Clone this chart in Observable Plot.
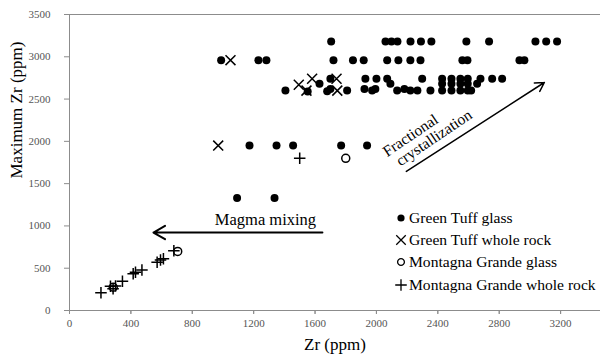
<!DOCTYPE html>
<html><head><meta charset="utf-8">
<script src="https://cdn.jsdelivr.net/npm/d3@7"></script>
<script src="https://cdn.jsdelivr.net/npm/@observablehq/plot@0.6"></script>
<style>
body{margin:0;background:#fff;}
#wrap{position:relative;width:600px;height:354px;font-family:"Liberation Serif","Times New Roman",serif;}
#legend{position:absolute;left:395px;top:207px;font-size:15.6px;color:#000;}
.li{height:22.2px;display:flex;align-items:center;white-space:nowrap;}
.li svg{width:12px;height:12px;margin-right:2px;overflow:visible;}
</style></head><body><div id="wrap"></div>
<script>
// Green Tuff glass
const gtGlassZr  = [1705,2059,2098,2137,2222,2290,2358,2586,2734,3036,3106,3177,
                    988,1231,1283,1720,1847,1917,2070,2143,2221,2287,2560,2593,2932,2964,
                    1700,1928,2000,2070,2298,2428,2489,2547,2595,2678,2754,2819,
                    1629,2091,2428,2489,2547,2595,2656,
                    1407,1552,1679,1700,1809,1922,1972,1993,2135,2182,2221,2267,2352,2428,2489,2547,2595,2617,
                    1173,1349,1457,1770,1939,
                    1092,1336];
const gtGlassMax = [3180,3180,3180,3180,3180,3180,3180,3180,3180,3180,3180,3180,
                    2960,2960,2960,2960,2960,2960,2960,2960,2960,2960,2960,2960,2960,2960,
                    2740,2740,2740,2740,2740,2740,2740,2740,2740,2740,2740,2740,
                    2680,2680,2680,2680,2680,2680,2680,
                    2600,2590,2593,2620,2600,2620,2600,2620,2600,2620,2600,2600,2600,2600,2600,2600,2600,2600,
                    1950,1950,1950,1950,1950,
                    1330,1330];
// Green Tuff whole rock
const gtRockZr  = [969,1049,1494,1544,1581,1740,1745];
const gtRockMax = [1950,2960,2670,2600,2740,2740,2600];
// Montagna Grande glass
const mgGlassZr  = [285,705,1800];
const mgGlassMax = [275,698,1800];
// Montagna Grande whole rock
const mgRockZr  = [205,267,284,300,345,415,430,472,571,593,612,680,1500];
const mgRockMax = [210,288,256,290,345,434,453,478,571,598,611,706,1800];

const xTicks = [0,400,800,1200,1600,2000,2400,2800,3200];
const yTicks = [0,500,1000,1500,2000,2500,3000,3500];
const seriesNames = ["Green Tuff glass","Green Tuff whole rock","Montagna Grande glass","Montagna Grande whole rock"];

// annotations
const mixText = ["Magma mixing"], mixTextX = [1277], mixTextY = [1076];
const mixArrow = [{x1:1648,y1:922,x2:547,y2:922}];
const fracText = ["Fractional","crystallization"], fracTextX = [2070,2156], fracTextY = [1813,1703];
const fracArrow = [{x1:2195,y1:1644,x2:3094,y2:2696}];

const pts = (xs, ys) => xs.map((x,i)=>({x, y: ys[i]}));
const serif = '"Liberation Serif","Times New Roman",serif';

const plot = Plot.plot({
  width: 600, height: 354,
  marginLeft: 69, marginRight: 0, marginTop: 14, marginBottom: 44,
  style: {fontFamily: serif, background: "#fff"},
  x: {domain: [0, 3460]},
  y: {domain: [0, 3500]},
  marks: [
    Plot.ruleY([3500], {stroke: "#8c8c8c"}),
    Plot.ruleY([0], {stroke: "#8c8c8c"}),
    Plot.ruleX([0], {stroke: "#8c8c8c"}),
    Plot.ruleX(xTicks, {x: d => d, y1: -45, y2: 0, stroke: "#8c8c8c"}),
    Plot.axisX({ticks: xTicks, tickSize: 4, tickPadding: 5, stroke: "#8c8c8c", fill: "#555", fontSize: 11, fontFamily: serif, label: null, tickFormat: d => String(d)}),
    Plot.axisY({ticks: yTicks, tickSize: 5, tickPadding: 14, stroke: "#8c8c8c", fill: "#555", fontSize: 11, fontFamily: serif, label: null, tickFormat: d => String(d)}),
    Plot.text(["Zr (ppm)"], {frameAnchor: "bottom", dy: 39, lineAnchor: "bottom", fontSize: 17, fill: "#000"}),
    Plot.text(["Maximum Zr (ppm)"], {frameAnchor: "left", rotate: -90, dx: -53, dy: 16, fontSize: 17, fill: "#000"}),
    Plot.dot(pts(gtGlassZr, gtGlassMax), {x: "x", y: "y", r: 4, fill: "#000", symbol: "circle"}),
    Plot.dot(pts(gtRockZr, gtRockMax), {x: "x", y: "y", r: 4.6, stroke: "#000", strokeWidth: 1.5, symbol: "times"}),
    Plot.dot(pts(mgGlassZr, mgGlassMax), {x: "x", y: "y", r: 4, stroke: "#000", strokeWidth: 1.5, fill: "none", symbol: "circle"}),
    Plot.dot(pts(mgRockZr, mgRockMax), {x: "x", y: "y", r: 3.8, stroke: "#000", strokeWidth: 1.5, symbol: "plus"}),
    Plot.text(mixText, {x: mixTextX, y: mixTextY, fontSize: 16.5, fill: "#000", textAnchor: "middle"}),
    Plot.arrow(mixArrow, {x1: "x1", y1: "y1", x2: "x2", y2: "y2", stroke: "#000", strokeWidth: 2, headLength: 10}),
    Plot.text(fracText, {x: fracTextX, y: fracTextY, rotate: -34, textAnchor: "start", lineAnchor: "bottom", fontSize: 15.5, fill: "#000"}),
    Plot.arrow(fracArrow, {x1: "x1", y1: "y1", x2: "x2", y2: "y2", stroke: "#000", strokeWidth: 1.5, headLength: 10})
  ]
});
const wrap = document.getElementById("wrap");
wrap.appendChild(plot);

// legend
const symTypes = [[d3.symbolCircle, 3.6*3.6*Math.PI, true],
                  [d3.symbolTimes, 4.4*4.4*Math.PI, false],
                  [d3.symbolCircle, 3.4*3.4*Math.PI, false],
                  [d3.symbolPlus, 3.8*3.8*Math.PI, false]];
const leg = document.createElement("div");
leg.id = "legend";
seriesNames.forEach((name, i) => {
  const row = document.createElement("div");
  row.className = "li";
  const [sym, size, filled] = symTypes[i];
  const path = d3.symbol(sym, size)();
  row.innerHTML = `<svg viewBox="-6 -6 12 12"><path d="${path}" fill="${filled ? "#000" : "none"}" stroke="${filled ? "none" : "#000"}" stroke-width="1.3"/></svg><span>${name}</span>`;
  leg.appendChild(row);
});
wrap.appendChild(leg);
</script></body></html>
